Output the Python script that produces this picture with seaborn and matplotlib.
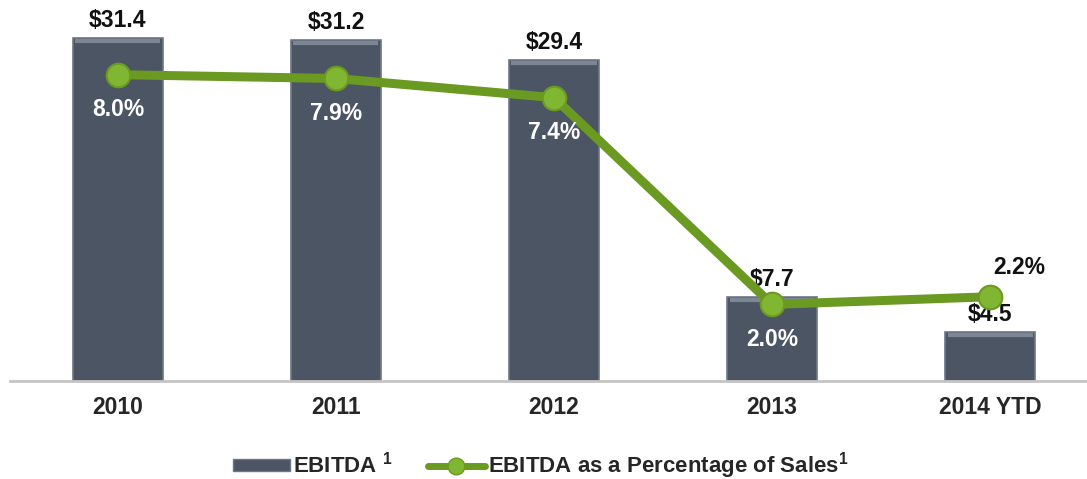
import matplotlib
matplotlib.use("Agg")
import matplotlib.pyplot as plt
import seaborn as sns
import pandas as pd
from matplotlib.lines import Line2D
from matplotlib.patches import Patch

# data
years = ["2010", "2011", "2012", "2013", "2014 YTD"]
ebitda = [31.4, 31.2, 29.4, 7.7, 4.5]
ebitda_pct = [8.0, 7.9, 7.4, 2.0, 2.2]

bar_color = "#4b5563"
line_color = "#6b9a22"
marker_color = "#80b631"

sns.set_style("white")
plt.rcParams["font.family"] = ["Liberation Sans", "DejaVu Sans"]
plt.rcParams["font.weight"] = "bold"
plt.rcParams["mathtext.fontset"] = "custom"
plt.rcParams["mathtext.rm"] = "Liberation Sans"
plt.rcParams["mathtext.default"] = "rm"

df = pd.DataFrame({"year": years, "ebitda": ebitda, "pct": ebitda_pct})

fig = plt.figure(figsize=(10.87, 4.79), dpi=100)
ax = fig.add_axes([10 / 1087, 1 - 381 / 479, 1076 / 1087, 381 / 479])

sns.barplot(data=df, x="year", y="ebitda", color=bar_color, width=0.41,
            saturation=1, ax=ax, edgecolor="#6e7885", linewidth=1.2)
ax.set_ylim(0, 34.9)
ax.set_xlim(-0.495, 4.44)

# lighter top bevel on each bar
for p in ax.patches:
    ax.plot([p.get_x() + 0.01, p.get_x() + p.get_width() - 0.01],
            [p.get_height() - 0.25] * 2, color="#7d8794", linewidth=3,
            solid_capstyle="butt")

for sp in ["top", "right", "left"]:
    ax.spines[sp].set_visible(False)
ax.spines["bottom"].set_color("#c4c4c4")
ax.spines["bottom"].set_linewidth(2)
ax.set_yticks([])
ax.set_xlabel("")
ax.set_ylabel("")
ax.tick_params(axis="x", length=0, pad=11, labelsize=16.5)
for t in ax.get_xticklabels():
    t.set_fontweight("bold")

# bar value labels
for i, v in enumerate(ebitda):
    ax.text(i, v + 1.6, f"${v}", ha="center", va="center",
            fontsize=16.5, fontweight="bold", color="#111111")

ax2 = ax.twinx()
sns.lineplot(data=df, x="year", y="pct", ax=ax2, color=line_color, linewidth=6.5,
             marker="o", markersize=17, markerfacecolor=marker_color,
             markeredgecolor="#6a9a20", markeredgewidth=1.5, sort=False)
ax2.set_ylim(0, 9.95)
ax2.set_yticks([])
ax2.set_ylabel("")
for sp in ["top", "right", "left", "bottom"]:
    ax2.spines[sp].set_visible(False)

# percentage labels
for i, v in enumerate(ebitda_pct):
    if i == len(ebitda_pct) - 1:
        ax2.annotate(f"{v}%", xy=(i, v), xytext=(21, 21), textcoords="offset points",
                     ha="center", va="center", fontsize=16.5, fontweight="bold",
                     color="#111111")
    else:
        ax2.annotate(f"{v}%", xy=(i, v), xytext=(0, -25), textcoords="offset points",
                     ha="center", va="center", fontsize=16.5, fontweight="bold",
                     color="white")

handles = [
    Patch(facecolor=bar_color, edgecolor="#6e7885"),
    Line2D([0], [0], color=line_color, linewidth=5, marker="o", markersize=12,
           markerfacecolor=marker_color, markeredgecolor="#6a9a20"),
]
labels = ["EBITDA $^1$", "EBITDA as a Percentage of Sales$^1$"]
fig.legend(handles, labels, loc="center", bbox_to_anchor=(0.497, 1 - 466 / 479),
           ncol=2, frameon=False, handlelength=2.6, handleheight=0.5,
           handletextpad=0.1, columnspacing=1.6,
           prop={"weight": "bold", "size": 16})

fig.savefig("out.png", dpi=100)
